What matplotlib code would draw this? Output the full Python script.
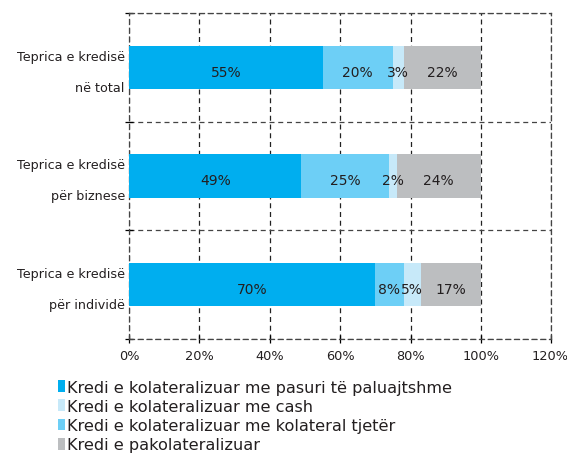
import numpy as np
import matplotlib
matplotlib.use('Agg')
import matplotlib.pyplot as plt

plt.rcParams['font.family'] = ['DejaVu Sans']

# categories (top to bottom)
categories = ['Teprica e kredisë\nnë total',
              'Teprica e kredisë\npër biznese',
              'Teprica e kredisë\npër individë']

# series in the order they are stacked in the bars
series_names = ['Kredi e kolateralizuar me pasuri të paluajtshme',
                'Kredi e kolateralizuar me kolateral tjetër',
                'Kredi e kolateralizuar me cash',
                'Kredi e pakolateralizuar']
series_values = [[55, 49, 70],
                 [20, 25, 8],
                 [3, 2, 5],
                 [22, 24, 17]]
series_colors = ['#00AEEF', '#6DCFF6', '#C7E9F9', '#BCBEC0']

# legend order as in the original
legend_order = [0, 2, 1, 3]

x_ticks = [0, 20, 40, 60, 80, 100, 120]

text_color = '#231F20'
dash = (0, (4, 3))

fig = plt.figure(figsize=(5.67, 4.56), dpi=100)
ax = fig.add_axes([0.2275, 0.2544, 0.745, 0.7149])

y = np.arange(len(categories))
left = np.zeros(len(categories))
bars = []
for name, vals, col in zip(series_names, series_values, series_colors):
    vals = np.array(vals, dtype=float)
    b = ax.barh(y, vals, left=left, height=0.4, color=col, label=name, zorder=3)
    bars.append(b)
    for yi, l, v in zip(y, left, vals):
        ax.annotate(f'{int(v)}%', (l + v / 2, yi), xytext=(0, -3.2),
                    textcoords='offset points', ha='center', va='center',
                    fontsize=10, color=text_color, zorder=4)
    left = left + vals

ax.set_xlim(0, 120)
ax.set_ylim(len(categories) - 0.5, -0.5)

# x labels; the last one is pulled in a little so it stays in the picture
x_labels = [f'{t}%' for t in x_ticks]
ax.set_xticks(x_ticks)
ax.set_xticklabels(x_labels[:-1] + [''], fontsize=9.3, color=text_color)
ax.annotate(x_labels[-1], (x_ticks[-1], 0), xycoords=('data', 'axes fraction'),
            xytext=(12, -7.5), textcoords='offset points', ha='right', va='top',
            fontsize=9.3, color=text_color, annotation_clip=False)

# category labels, set a little below the bar centre like the original
ax.set_yticks(y)
ax.set_yticklabels([''] * len(categories))
for yi, cat in zip(y, categories):
    ax.annotate(cat, (0, yi), xycoords=('axes fraction', 'data'),
                xytext=(-3, -3.2), textcoords='offset points', ha='right',
                va='center', fontsize=9.2, color=text_color, linespacing=2.8,
                annotation_clip=False)
ax.set_yticks(np.arange(len(categories) + 1) - 0.5, minor=True)

ax.tick_params(axis='y', which='major', length=0, pad=3)
ax.tick_params(axis='y', which='minor', length=6, direction='inout', width=0.9)
ax.tick_params(axis='x', which='major', length=6, direction='inout', width=0.9, pad=4)

# dashed grid and frame
ax.grid(axis='x', which='major', linestyle=dash, color='#222222', linewidth=0.9)
ax.grid(axis='y', which='minor', linestyle=dash, color='#444444', linewidth=0.9)
ax.set_axisbelow(True)
for s in ax.spines.values():
    s.set_linestyle(dash)
    s.set_linewidth(0.9)
    s.set_color('#444444')

handles = [bars[i] for i in legend_order]
labels = [series_names[i] for i in legend_order]
fig.legend(handles, labels, loc='upper left', bbox_to_anchor=(0.102, 0.165),
           frameon=False, fontsize=11.6, labelspacing=0.26,
           handlelength=0.42, handleheight=0.75, handletextpad=0.12,
           borderpad=0, borderaxespad=0, labelcolor=text_color)

fig.savefig('out.png', dpi=100)
